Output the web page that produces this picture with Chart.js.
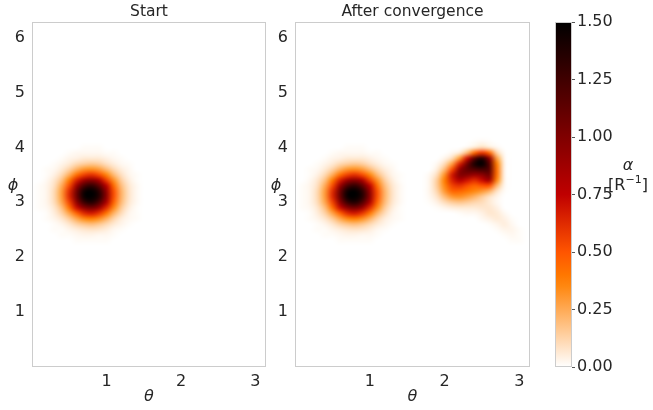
<!DOCTYPE html>
<html>
<head>
<meta charset="utf-8">
<script src="https://cdn.jsdelivr.net/npm/chart.js@4.4.1/dist/chart.umd.min.js"></script>
<style>
html, body { margin: 0; padding: 0; background: #fff; }
#wrap { position: relative; width: 653px; height: 410px; }
#wrap canvas { position: absolute; left: 0; top: 0; }
</style>
</head>
<body>
<div id="wrap">
	<canvas id="p1" width="653" height="410"></canvas>
	<canvas id="p2" width="653" height="410"></canvas>
	<canvas id="cb" width="653" height="410"></canvas>
</div>
<script>
// ticks
const thetaTicks = [1, 2, 3];
const phiTicks = [1, 2, 3, 4, 5, 6];
const alphaTicks = [0, 0.25, 0.5, 0.75, 1, 1.25, 1.5];

// grid spacing of the density maps (rad)
const gridStep = 0.1;

// blob present at the start (rows: phi from 2.3 upward, cols: theta from 0.1)
const startTheta0 = 0.1;
const startPhi0 = 2.3;
const startAlpha = [
	[0.00, 0.00, 0.00, 0.00, 0.00, 0.01, 0.01, 0.01, 0.01, 0.01, 0.00, 0.00, 0.00, 0.00, 0.00],
	[0.00, 0.00, 0.00, 0.01, 0.01, 0.02, 0.03, 0.03, 0.02, 0.02, 0.01, 0.00, 0.00, 0.00, 0.00],
	[0.00, 0.00, 0.01, 0.01, 0.03, 0.05, 0.07, 0.08, 0.07, 0.05, 0.02, 0.01, 0.00, 0.00, 0.00],
	[0.00, 0.00, 0.01, 0.03, 0.07, 0.13, 0.17, 0.19, 0.16, 0.11, 0.06, 0.03, 0.01, 0.00, 0.00],
	[0.00, 0.01, 0.03, 0.07, 0.15, 0.26, 0.35, 0.38, 0.33, 0.23, 0.12, 0.05, 0.02, 0.01, 0.00],
	[0.00, 0.01, 0.05, 0.13, 0.27, 0.46, 0.63, 0.68, 0.59, 0.40, 0.22, 0.10, 0.03, 0.01, 0.00],
	[0.01, 0.02, 0.07, 0.19, 0.42, 0.71, 0.96, 1.04, 0.90, 0.62, 0.34, 0.15, 0.05, 0.01, 0.00],
	[0.01, 0.03, 0.10, 0.26, 0.55, 0.94, 1.28, 1.38, 1.19, 0.82, 0.45, 0.20, 0.07, 0.02, 0.00],
	[0.01, 0.03, 0.11, 0.29, 0.63, 1.07, 1.46, 1.50, 1.36, 0.94, 0.51, 0.22, 0.08, 0.02, 0.00],
	[0.01, 0.03, 0.11, 0.29, 0.62, 1.06, 1.44, 1.50, 1.34, 0.92, 0.51, 0.22, 0.08, 0.02, 0.00],
	[0.01, 0.03, 0.09, 0.25, 0.53, 0.90, 1.22, 1.32, 1.14, 0.78, 0.43, 0.19, 0.07, 0.02, 0.00],
	[0.00, 0.02, 0.07, 0.18, 0.39, 0.66, 0.89, 0.97, 0.84, 0.57, 0.32, 0.14, 0.05, 0.01, 0.00],
	[0.00, 0.01, 0.04, 0.11, 0.24, 0.42, 0.56, 0.61, 0.53, 0.36, 0.20, 0.09, 0.03, 0.01, 0.00],
	[0.00, 0.01, 0.02, 0.06, 0.13, 0.23, 0.31, 0.33, 0.29, 0.20, 0.11, 0.05, 0.02, 0.00, 0.00],
	[0.00, 0.00, 0.01, 0.03, 0.06, 0.11, 0.14, 0.16, 0.14, 0.09, 0.05, 0.02, 0.01, 0.00, 0.00],
	[0.00, 0.00, 0.00, 0.01, 0.03, 0.04, 0.06, 0.06, 0.06, 0.04, 0.02, 0.01, 0.00, 0.00, 0.00],
	[0.00, 0.00, 0.00, 0.00, 0.01, 0.02, 0.02, 0.02, 0.02, 0.01, 0.01, 0.00, 0.00, 0.00, 0.00],
	[0.00, 0.00, 0.00, 0.00, 0.00, 0.00, 0.01, 0.01, 0.01, 0.00, 0.00, 0.00, 0.00, 0.00, 0.00]
];

// new crescent after convergence (rows: phi from 2.3 upward, cols: theta from 1.7)
const convTheta0 = 1.7;
const convPhi0 = 2.3;
const convAlpha = [
	[0.00, 0.00, 0.00, 0.00, 0.00, 0.00, 0.00, 0.00, 0.00, 0.00, 0.00, 0.00, 0.01, 0.01, 0.00],
	[0.00, 0.00, 0.00, 0.00, 0.00, 0.00, 0.00, 0.00, 0.00, 0.00, 0.00, 0.01, 0.02, 0.01, 0.00],
	[0.00, 0.00, 0.00, 0.00, 0.00, 0.00, 0.00, 0.00, 0.00, 0.00, 0.01, 0.03, 0.03, 0.01, 0.00],
	[0.00, 0.00, 0.00, 0.00, 0.00, 0.00, 0.00, 0.00, 0.00, 0.01, 0.03, 0.05, 0.02, 0.00, 0.00],
	[0.00, 0.00, 0.00, 0.00, 0.00, 0.00, 0.00, 0.00, 0.02, 0.04, 0.06, 0.04, 0.01, 0.00, 0.00],
	[0.00, 0.00, 0.00, 0.00, 0.00, 0.01, 0.02, 0.02, 0.04, 0.07, 0.06, 0.02, 0.00, 0.00, 0.00],
	[0.00, 0.00, 0.01, 0.03, 0.05, 0.06, 0.06, 0.06, 0.07, 0.07, 0.04, 0.00, 0.00, 0.00, 0.00],
	[0.00, 0.01, 0.04, 0.10, 0.15, 0.17, 0.15, 0.12, 0.10, 0.06, 0.02, 0.00, 0.00, 0.00, 0.00],
	[0.00, 0.02, 0.08, 0.20, 0.30, 0.32, 0.28, 0.22, 0.15, 0.08, 0.03, 0.00, 0.00, 0.00, 0.00],
	[0.00, 0.03, 0.12, 0.30, 0.45, 0.45, 0.40, 0.35, 0.30, 0.22, 0.08, 0.01, 0.00, 0.00, 0.00],
	[0.00, 0.03, 0.15, 0.35, 0.55, 0.60, 0.52, 0.45, 0.50, 0.50, 0.20, 0.02, 0.00, 0.00, 0.00],
	[0.00, 0.03, 0.15, 0.38, 0.65, 0.80, 0.70, 0.62, 0.72, 0.85, 0.35, 0.03, 0.00, 0.00, 0.00],
	[0.00, 0.02, 0.10, 0.32, 0.68, 0.98, 0.98, 0.90, 0.95, 1.05, 0.42, 0.03, 0.00, 0.00, 0.00],
	[0.00, 0.00, 0.05, 0.20, 0.52, 0.92, 1.12, 1.20, 1.25, 1.15, 0.42, 0.03, 0.00, 0.00, 0.00],
	[0.00, 0.00, 0.02, 0.10, 0.28, 0.65, 1.05, 1.40, 1.50, 1.15, 0.38, 0.03, 0.00, 0.00, 0.00],
	[0.00, 0.00, 0.00, 0.03, 0.10, 0.30, 0.70, 1.15, 1.35, 0.95, 0.28, 0.02, 0.00, 0.00, 0.00],
	[0.00, 0.00, 0.00, 0.00, 0.02, 0.06, 0.20, 0.45, 0.60, 0.45, 0.12, 0.01, 0.00, 0.00, 0.00],
	[0.00, 0.00, 0.00, 0.00, 0.00, 0.00, 0.02, 0.06, 0.10, 0.06, 0.02, 0.00, 0.00, 0.00, 0.00],
	[0.00, 0.00, 0.00, 0.00, 0.00, 0.00, 0.00, 0.01, 0.02, 0.01, 0.00, 0.00, 0.00, 0.00, 0.00]
];

const alphaMax = 1.5;
const textColor = '#262626';
const spineColor = '#cccccc';
const fontFamily = "'DejaVu Sans', sans-serif";

// gist_heat reversed
function heatColor(v){
	let t = 1 - Math.min(Math.max(v / alphaMax, 0), 1);
	const cl = a => Math.round(255 * Math.min(Math.max(a, 0), 1));
	return [cl(1.5 * t), cl(2 * t - 1), cl(4 * t - 3)];
}

// grid cells as points so the library knows about them
function toPoints(grid, th0, ph0){
	const pts = [];
	grid.forEach((row, i) => row.forEach((v, j) => {
		pts.push({x: th0 + j * gridStep, y: ph0 + i * gridStep, v: v});
	}));
	return pts;
}

const heatPlugin = {
	id: 'heat',
	beforeDatasetsDraw(chart, args, opts){
		const {ctx, chartArea, scales: {x, y}} = chart;
		ctx.save();
		ctx.beginPath();
		ctx.rect(chartArea.left, chartArea.top, chartArea.width, chartArea.height);
		ctx.clip();
		(opts.grids || []).forEach(g => {
			const rows = g.alpha.length, cols = g.alpha[0].length;
			// one empty cell of margin all round so the map fades to white
			const off = document.createElement('canvas');
			off.width = cols + 2; off.height = rows + 2;
			const octx = off.getContext('2d');
			const img = octx.createImageData(cols + 2, rows + 2);
			for(let r = 0; r < rows + 2; r++){
				for(let c = 0; c < cols + 2; c++){
					let v = 0;
					if(r > 0 && r <= rows && c > 0 && c <= cols) v = g.alpha[rows - r][c - 1];
					const col = heatColor(v);
					const k = (r * (cols + 2) + c) * 4;
					img.data[k] = col[0]; img.data[k + 1] = col[1]; img.data[k + 2] = col[2]; img.data[k + 3] = 255;
				}
			}
			octx.putImageData(img, 0, 0);
			const left = x.getPixelForValue(g.theta0 - 1.5 * gridStep);
			const right = x.getPixelForValue(g.theta0 + (cols + 0.5) * gridStep);
			const top = y.getPixelForValue(g.phi0 + (rows + 0.5) * gridStep);
			const bottom = y.getPixelForValue(g.phi0 - 1.5 * gridStep);
			ctx.globalCompositeOperation = 'multiply';
			ctx.imageSmoothingEnabled = true;
			ctx.imageSmoothingQuality = 'high';
			ctx.drawImage(off, left, top, right - left, bottom - top);
		});
		ctx.restore();
	},
	afterDraw(chart, args, opts){
		const {ctx, chartArea: a} = chart;
		ctx.save();
		ctx.strokeStyle = spineColor;
		ctx.lineWidth = 1;
		ctx.strokeRect(a.left + 0.5, a.top + 0.5, a.width - 1, a.height - 1);
		ctx.fillStyle = textColor;
		ctx.textAlign = 'center';
		ctx.textBaseline = 'middle';
		const cx = (a.left + a.right) / 2;
		ctx.font = '15.5px ' + fontFamily;
		ctx.fillText(opts.title, cx, 12);
		ctx.font = 'italic 16px ' + fontFamily;
		ctx.fillText('θ', cx, 397);
		ctx.fillText('ϕ', a.left - 19, 186);
		ctx.restore();
	}
};

function makePanel(id, title, grids, left, right){
	const datasets = grids.map(g => ({
		data: toPoints(g.alpha, g.theta0, g.phi0),
		pointRadius: 0,
		showLine: false
	}));
	return new Chart(document.getElementById(id), {
		type: 'scatter',
		data: { datasets: datasets },
		plugins: [heatPlugin],
		options: {
			responsive: false,
			animation: false,
			events: [],
			layout: {
				autoPadding: false,
				padding: { left: left - 26, right: 653 - right, top: 22, bottom: 410 - 367 - 22 }
			},
			scales: {
				x: {
					type: 'linear', min: 0, max: Math.PI,
					afterBuildTicks: s => { s.ticks = thetaTicks.map(v => ({value: v})); },
					afterFit: s => { s.height = 22; },
					grid: { display: false, drawTicks: false },
					border: { display: false },
					ticks: { color: textColor, font: { family: fontFamily, size: 16 }, padding: 5, maxRotation: 0 }
				},
				y: {
					type: 'linear', min: 0, max: 2 * Math.PI,
					afterBuildTicks: s => { s.ticks = phiTicks.map(v => ({value: v})); },
					afterFit: s => { s.width = 26; },
					grid: { display: false, drawTicks: false },
					border: { display: false },
					ticks: { color: textColor, font: { family: fontFamily, size: 16 }, padding: 7 }
				}
			},
			plugins: {
				legend: { display: false },
				tooltip: { enabled: false },
				heat: { grids: grids, title: title }
			}
		}
	});
}

const startGrid = { alpha: startAlpha, theta0: startTheta0, phi0: startPhi0 };
const convGrid = { alpha: convAlpha, theta0: convTheta0, phi0: convPhi0 };

makePanel('p1', 'Start', [startGrid], 32, 266);
makePanel('p2', 'After convergence', [startGrid, convGrid], 295, 530);

// colorbar
const cbarPlugin = {
	id: 'cbar',
	beforeDatasetsDraw(chart){
		const {ctx, chartArea: a, scales: {y}} = chart;
		const y0 = y.getPixelForValue(0), y1 = y.getPixelForValue(alphaMax);
		const grad = ctx.createLinearGradient(0, y0, 0, y1);
		for(let i = 0; i <= 30; i++){
			const c = heatColor(alphaMax * i / 30);
			grad.addColorStop(i / 30, 'rgb(' + c.join(',') + ')');
		}
		ctx.save();
		ctx.fillStyle = grad;
		ctx.fillRect(a.left, a.top, a.width, a.height);
		ctx.restore();
	},
	afterDraw(chart){
		const {ctx, chartArea: a} = chart;
		ctx.save();
		ctx.strokeStyle = spineColor;
		ctx.lineWidth = 1;
		ctx.strokeRect(a.left + 0.5, a.top + 0.5, a.width - 1, a.height - 1);
		ctx.fillStyle = textColor;
		ctx.textBaseline = 'middle';
		ctx.textAlign = 'center';
		ctx.font = 'italic 16px ' + fontFamily;
		ctx.fillText('α', 628, 166);
		// [R^-1]
		ctx.font = '16px ' + fontFamily;
		const supFont = '11px ' + fontFamily;
		const p1 = '[R', p2 = '\u22121', p3 = ']';
		const w1 = ctx.measureText(p1).width, w3 = ctx.measureText(p3).width;
		ctx.font = supFont;
		const w2 = ctx.measureText(p2).width;
		let xs = 628 - (w1 + w2 + w3) / 2;
		ctx.textAlign = 'left';
		ctx.font = '16px ' + fontFamily;
		ctx.fillText(p1, xs, 186);
		ctx.font = supFont;
		ctx.fillText(p2, xs + w1, 180);
		ctx.font = '16px ' + fontFamily;
		ctx.fillText(p3, xs + w1 + w2, 186);
		ctx.restore();
	}
};

new Chart(document.getElementById('cb'), {
	type: 'scatter',
	data: { datasets: [{ data: alphaTicks.map(v => ({x: 0, y: v})), pointRadius: 0 }] },
	plugins: [cbarPlugin],
	options: {
		responsive: false,
		animation: false,
		events: [],
		layout: {
			autoPadding: false,
			padding: { left: 555, right: 653 - 572 - 60, top: 22, bottom: 410 - 367 }
		},
		scales: {
			x: { display: false, min: -1, max: 1 },
			y: {
				position: 'right', min: 0, max: alphaMax,
				afterBuildTicks: s => { s.ticks = alphaTicks.map(v => ({value: v})); },
				afterFit: s => { s.width = 60; },
				grid: { display: true, drawOnChartArea: false, drawTicks: true, tickLength: 3, color: '#555555' },
				border: { display: false },
				ticks: { color: textColor, font: { family: fontFamily, size: 16 }, padding: 2, callback: v => v.toFixed(2) }
			}
		},
		plugins: { legend: { display: false }, tooltip: { enabled: false } }
	}
});
</script>
</body>
</html>
